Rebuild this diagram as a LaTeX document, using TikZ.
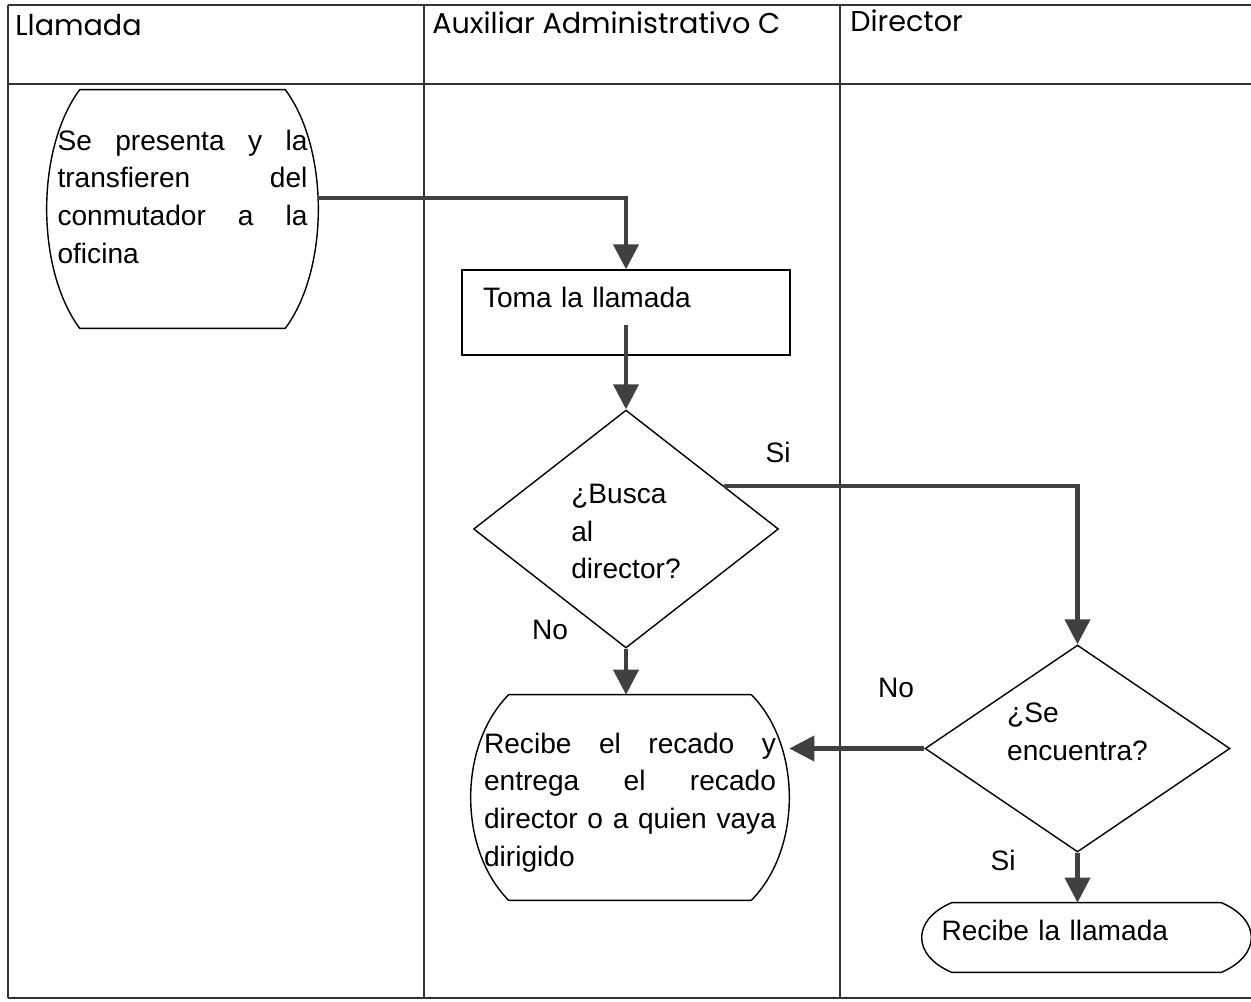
\documentclass[tikz,border=0pt]{standalone}
\usepackage{fontspec}
\setmainfont{Liberation Sans}
\newfontfamily\headfont{Poppins}
\usetikzlibrary{shapes.geometric, arrows.meta}
\definecolor{arrowgray}{HTML}{404040}
\definecolor{lanegray}{HTML}{333333}
\tikzset{
    x=0.02cm, y=-0.02cm, % one unit is one pixel of the scan, y goes down
    every node/.style={font=\fontsize{16}{21.6}\selectfont}, % Arial-like body text
    lane/.style={draw=lanegray, line width=1pt}, % the swimlane grid
    headtext/.style={anchor=base west, inner sep=0pt, font=\headfont\fontsize{16.3}{19}\selectfont}, % lane titles
    flow/.style={draw=arrowgray, line width=2.3pt, -{Triangle[length=0.5cm,width=0.5cm]}}, % thick arrows
    process/.style={rectangle, draw, line width=0.8pt, align=left, inner ysep=0pt},
    decision/.style={diamond, draw, line width=0.8pt, align=left, inner sep=0pt},
    bulged/.style={rectangle, align=left, inner ysep=0pt}, % outline drawn by \bulgebox
    answer/.style={anchor=center}, % Si / No marks
}
% flat top and bottom, curved sides: #1 node, #2 inset of the corners, #3 quarter height
\newcommand{\bulgebox}[3]{%
    \draw[line width=0.8pt] ([shift={(#2,0)}]#1.north west) -- ([shift={(-#2,0)}]#1.north east)
        .. controls ([shift={({#2/3},#3)}]#1.north east) and ([shift={({#2/3},-#3)}]#1.south east) .. ([shift={(-#2,0)}]#1.south east)
        -- ([shift={(#2,0)}]#1.south west)
        .. controls ([shift={({-#2/3},-#3)}]#1.south west) and ([shift={({-#2/3},#3)}]#1.north west) .. cycle;}

\begin{document}
\begin{tikzpicture}
    \useasboundingbox (0,0) rectangle (1251,1001);
    % swimlanes
    \draw[lane] (8,5) -- (1251,5) (8,84) -- (1251,84) (8,998) -- (1251,998);
    \draw[lane] (8,5) -- (8,998) (424,5) -- (424,998) (840,5) -- (840,998);
    \node[headtext] (hllamada) at (15,35) {Llamada};
    \node[headtext] (hauxiliar) at (432,33) {Auxiliar Administrativo C};
    \node[headtext] (hdirector) at (850,31) {Director};

    \node[bulged, text width=5cm, inner xsep=0.21cm, text height=1.2cm, text depth=3.56cm] (inicio) at (182.5,209)
        {Se\hfill presenta\hfill y\hfill la\\ transfieren\hfill del\\ conmutador\hfill a\hfill la\\ oficina};
    \bulgebox{inicio}{33}{59.5}
    \node[process, text width=5.72cm, inner xsep=0.42cm, text height=0.74cm, text depth=0.96cm] (toma) at (626,312.5)
        {Toma la llamada};
    \node[decision, minimum width=6.1cm, minimum height=4.76cm, text height=2.2cm, text depth=0.2cm] (busca) at (626,529)
        {¿Busca\\ al\\ director?};
    \node[bulged, text width=5.84cm, inner xsep=0.26cm, text height=1.16cm, text depth=2.94cm] (recado) at (630,797.5)
        {Recibe\hfill el\hfill recado\hfill y\\ entrega\hfill el\hfill recado\\ director\hfill o\hfill a\hfill quien\hfill vaya\\ dirigido};
    \bulgebox{recado}{38}{51}
    \node[decision, aspect=1.5, minimum width=6.1cm, minimum height=4.14cm, text height=1.1cm, text depth=0.64cm] (encuentra) at (1077.5,748.5)
        {¿Se\\ encuentra?};
    \node[bulged, text width=5.8cm, inner xsep=0.39cm, text height=0.74cm, text depth=0.64cm] (recibe) at (1086.5,937.5)
        {Recibe la llamada};
    \bulgebox{recibe}{30}{17}

    \node[answer] (si1) at (778,452) {Si};
    \node[answer] (no1) at (550,630) {No};
    \node[answer] (no2) at (896,688) {No};
    \node[answer] (si2) at (1003,860) {Si};

    \draw[flow] ([shift={(0,-11)}]inicio.east) -| (toma.north);
    \draw[flow] ([shift={(0,12.5)}]toma.center) -- (busca.north);
    \draw[flow] (busca.24) -| (encuentra.north);
    \draw[flow] (busca.south) -- (busca.south |- recado.north);
    \draw[flow] (encuentra.west) -- (encuentra.west -| recado.east);
    \draw[flow] (encuentra.south) -- (encuentra.south |- recibe.north);
\end{tikzpicture}
\end{document}
